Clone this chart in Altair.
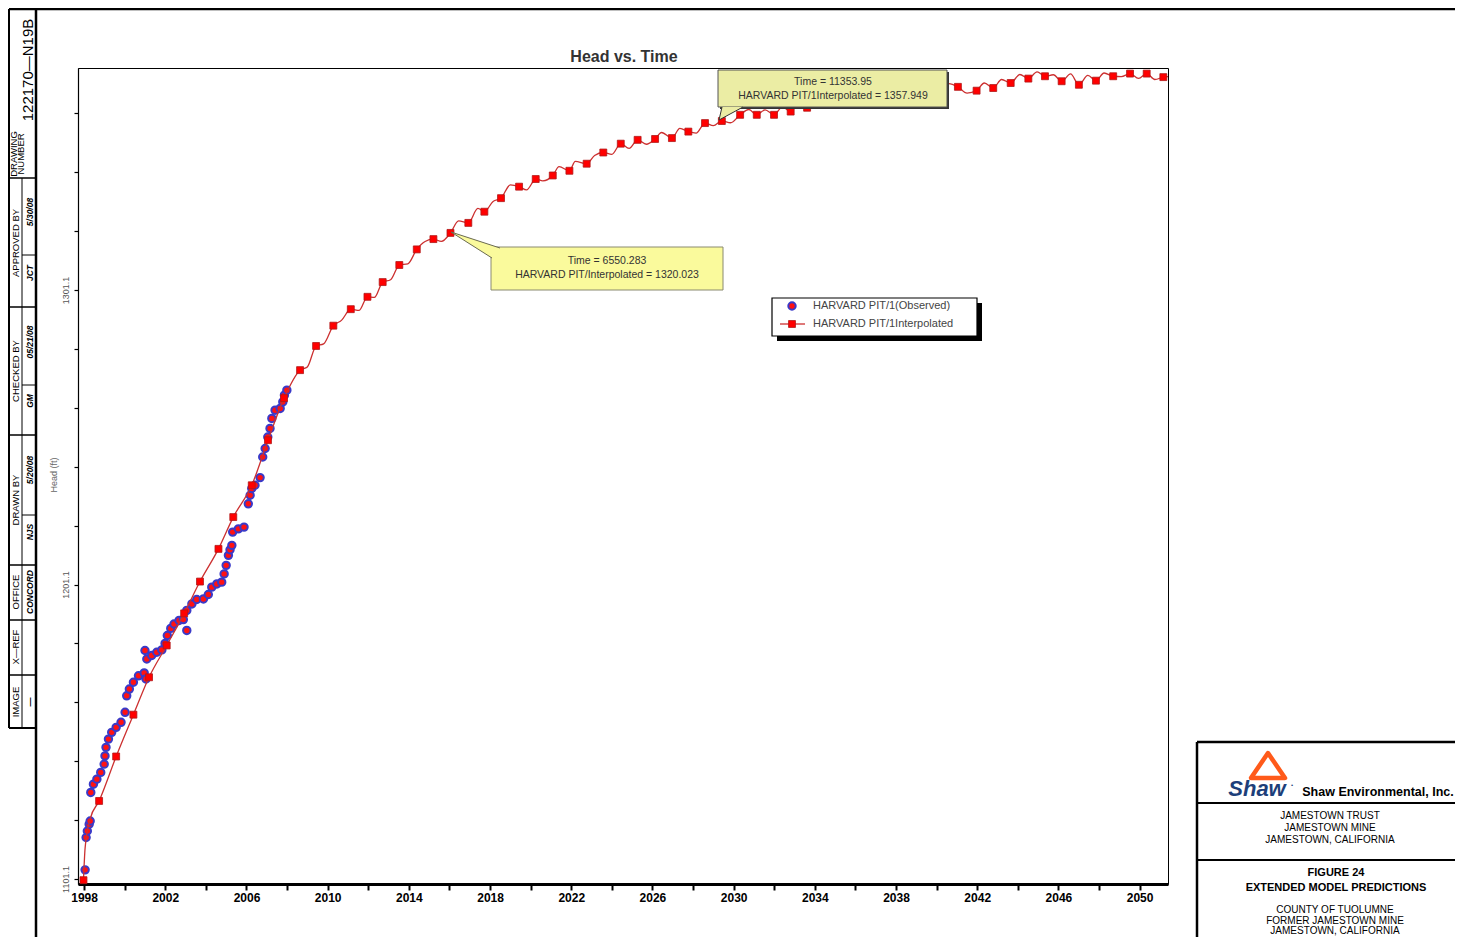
import altair as alt
import pandas as pd

# ---------------- data ----------------
obs_year = [1998.05, 1998.10, 1998.16, 1998.25, 1998.30, 1998.33, 1998.46, 1998.63, 1998.82, 1998.99,
            1999.03, 1999.08, 1999.20, 1999.36, 1999.58, 1999.82, 2000.02, 2000.10, 2000.23, 2000.43,
            2000.68, 2000.96, 2001.05, 2001.00, 2001.09, 2001.33, 2001.58, 2001.83, 2001.99, 2002.10,
            2002.27, 2002.43, 2002.68, 2002.89, 2003.06, 2003.06, 2003.31, 2003.55, 2003.88, 2004.12,
            2004.29, 2004.54, 2004.78, 2004.90, 2005.00, 2005.11, 2005.19, 2005.28, 2005.32, 2005.60,
            2005.88, 2006.09, 2006.18, 2006.26, 2006.42, 2006.67, 2006.80, 2006.92, 2007.05, 2007.16,
            2007.25, 2007.41, 2007.66, 2007.79, 2007.87, 2007.99]
obs_head = [1104.2, 1115.2, 1117.4, 1119.7, 1120.8, 1130.5, 1133.3, 1135.0, 1137.3, 1140.1,
            1142.9, 1145.8, 1148.6, 1150.9, 1152.6, 1154.3, 1157.7, 1163.3, 1165.6, 1167.9,
            1170.1, 1171.1, 1169.0, 1178.7, 1175.8, 1177.0, 1178.1, 1178.9, 1181.1, 1183.8,
            1186.2, 1187.7, 1188.9, 1189.2, 1185.5, 1192.3, 1194.5, 1196.0, 1196.2, 1197.7,
            1200.2, 1201.3, 1201.9, 1204.7, 1207.6, 1211.0, 1212.9, 1214.4, 1218.9, 1220.0,
            1220.6, 1228.5, 1231.4, 1233.7, 1234.8, 1237.4, 1244.4, 1247.3, 1251.2, 1254.1,
            1257.5, 1260.3, 1260.9, 1263.1, 1265.4, 1267.1]

sq_year = [1997.97, 1998.74, 1999.58, 2000.43, 2001.20, 2002.07, 2002.93, 2003.71, 2004.62, 2005.35,
           2006.26, 2007.06, 2007.85, 2008.64, 2009.43, 2010.28, 2011.14, 2011.96, 2012.71, 2013.53,
           2014.39, 2015.21, 2016.05, 2016.93, 2017.72, 2018.54, 2019.43, 2020.25, 2021.09, 2021.91,
           2022.76, 2023.58, 2024.44, 2025.27, 2026.13, 2026.96, 2027.77, 2028.59, 2029.42, 2030.32,
           2031.14, 2031.99, 2032.81, 2033.62, 2034.45, 2035.29, 2036.08, 2036.92, 2037.75, 2038.54,
           2039.38, 2040.22, 2041.05, 2041.97, 2042.79, 2043.65, 2044.52, 2045.34, 2046.16, 2047.01,
           2047.85, 2048.70, 2049.53, 2050.35, 2051.17]
sq_head = [1100.7, 1127.6, 1142.7, 1156.9, 1169.6, 1180.4, 1191.3, 1202.1, 1213.2, 1224.0,
           1234.8, 1250.1, 1264.4, 1273.9, 1282.1, 1289.0, 1294.6, 1298.8, 1303.8, 1309.6,
           1314.9, 1318.4, 1320.5, 1323.9, 1327.7, 1332.3, 1336.2, 1338.8, 1340.0, 1341.6,
           1344.0, 1347.8, 1350.8, 1352.1, 1352.4, 1352.7, 1354.9, 1357.8, 1358.5, 1360.6,
           1360.6, 1360.6, 1361.7, 1363.0, 1364.0, 1365.0, 1365.7, 1366.4, 1367.1, 1367.8,
           1368.4, 1369.1, 1370.1, 1368.8, 1369.7, 1371.4, 1372.9, 1373.7, 1372.0, 1370.8,
           1372.2, 1373.7, 1374.6, 1374.6, 1373.4]

# extra vertices of the interpolated curve (its seasonal wiggles between markers)
wave_year = [1998.05, 1998.30, 2009.00, 2009.80, 2010.68, 2011.55, 2012.30, 2013.10, 2013.95, 2014.80,
             2015.60, 2016.45, 2017.40, 2018.15, 2019.00, 2019.80, 2020.60, 2021.40, 2022.20, 2023.15,
             2024.00, 2024.85, 2025.70, 2026.45, 2027.35, 2028.15, 2029.00, 2029.85, 2030.75, 2031.55,
             2032.40, 2033.20, 2034.05, 2034.85, 2035.70, 2036.50, 2037.35, 2038.15, 2038.95, 2039.80,
             2040.60, 2041.50, 2042.35, 2043.20, 2044.10, 2044.95, 2045.75, 2046.60, 2047.45, 2048.25,
             2049.10, 2049.95, 2050.75, 2051.40]
wave_head = [1111.6, 1121.5, 1275.0, 1282.8, 1290.8, 1294.2, 1298.6, 1304.6, 1310.0, 1317.6,
             1317.6, 1324.6, 1328.8, 1331.2, 1336.8, 1335.1, 1338.2, 1343.0, 1344.8, 1346.8,
             1347.2, 1349.2, 1350.6, 1354.6, 1356.0, 1354.4, 1356.9, 1357.9, 1362.4, 1362.3,
             1363.3, 1364.4, 1365.3, 1366.3, 1367.1, 1367.8, 1368.5, 1369.2, 1369.9, 1370.5,
             1371.2, 1368.0, 1371.4, 1372.6, 1374.3, 1375.2, 1374.2, 1374.5, 1374.0, 1374.8,
             1373.6, 1373.0, 1372.6, 1373.6]

x_ticks = [1998, 2000, 2002, 2004, 2006, 2008, 2010, 2012, 2014, 2016, 2018, 2020, 2022, 2024,
           2026, 2028, 2030, 2032, 2034, 2036, 2038, 2040, 2042, 2044, 2046, 2048, 2050]
y_ticks = [1101.1, 1121.1, 1141.1, 1161.1, 1181.1, 1201.1, 1221.1, 1241.1, 1261.1, 1281.1,
           1301.1, 1321.1, 1341.1, 1361.1]
y_labels = ["1101.1", "1201.1", "1301.1"]

X_DOMAIN = [1997.70, 2051.40]
Y_DOMAIN = [1099.4, 1376.5]

# ---------------- layout ----------------
OX, OY = 78, 68          # page position of the plot area's top-left corner
W, H = 1090, 816
FONT = "Liberation Sans"

obs = pd.DataFrame({"year": obs_year, "head": obs_head})
sq = pd.DataFrame({"year": sq_year, "head": sq_head})
line = pd.concat([sq, pd.DataFrame({"year": wave_year, "head": wave_head})]).sort_values("year")

xs = alt.Scale(domain=X_DOMAIN, nice=False, zero=False)
ys = alt.Scale(domain=Y_DOMAIN, nice=False, zero=False)

x_axis = alt.Axis(values=x_ticks, format="d",
                  labelExpr="datum.value % 4 == 2 ? datum.label : ''",
                  title=None, grid=False, domainColor="black", domainWidth=3,
                  tickColor="black", tickWidth=2, tickSize=6,
                  labelFont=FONT, labelFontWeight="bold", labelFontSize=12, labelColor="black",
                  labelPadding=2, labelFlush=False, labelOverlap=False, labelBound=False)
lab_test = " || ".join(f"datum.label == '{v}'" for v in y_labels)
y_axis = alt.Axis(values=y_ticks, format=".1f",
                  labelExpr=f"({lab_test}) ? datum.label : ''",
                  title=None, grid=False, domainColor="black", domainWidth=1.2,
                  tickColor="black", tickSize=4, tickWidth=1.2,
                  labelAngle=270, labelAlign="center", labelBaseline="bottom", labelPadding=4,
                  labelFont=FONT, labelFontSize=9, labelColor="#555", labelOverlap=False)

X = alt.X("year:Q", scale=xs, axis=x_axis)
Y = alt.Y("head:Q", scale=ys, axis=y_axis)

RED = "#ff1212"
BLUE = "#3a3ac8"
LINE_RED = "#cc3030"

obs_layer = alt.Chart(obs).mark_point(shape="circle", filled=True, size=55, fill=RED,
                                       stroke=BLUE, strokeWidth=2, opacity=1).encode(x=X, y=Y)
line_layer = alt.Chart(line).mark_line(color=LINE_RED, strokeWidth=1.3,
                                       interpolate="monotone").encode(x=X, y=Y)
sq_layer = alt.Chart(sq).mark_square(size=48, fill="#ff0000", stroke="#b01818",
                                     strokeWidth=0.8, opacity=1).encode(x=X, y=Y)


# ---------------- decoration helpers (page pixel positions) ----------------
def pos(dfx, dfy):
    return dict(x=alt.X(dfx, scale=None, axis=None), y=alt.Y(dfy, scale=None, axis=None))


def texts(rows, **kw):
    df = pd.DataFrame(rows, columns=["px", "py", "t", "fs"])
    df["lx"] = df["px"] - OX
    df["ly"] = df["py"] - OY
    kw.setdefault("font", FONT)
    kw.setdefault("baseline", "middle")
    return alt.Chart(df).mark_text(**kw).encode(
        text="t:N", size=alt.Size("fs:Q", scale=None, legend=None), **pos("lx:Q", "ly:Q"))


def rules(rows, color="black"):
    df = pd.DataFrame(rows, columns=["x1", "y1", "x2", "y2", "w"])
    df["a"] = df["x1"] - OX
    df["b"] = df["x2"] - OX
    df["c"] = df["y1"] - OY
    df["d"] = df["y2"] - OY
    return alt.Chart(df).mark_rule(color=color).encode(
        x=alt.X("a:Q", scale=None, axis=None), x2="b:Q",
        y=alt.Y("c:Q", scale=None, axis=None), y2="d:Q",
        strokeWidth=alt.StrokeWidth("w:Q", scale=None, legend=None))


def rect(x1, y1, x2, y2, **kw):
    df = pd.DataFrame({"a": [x1 - OX], "b": [x2 - OX], "c": [y1 - OY], "d": [y2 - OY]})
    return alt.Chart(df).mark_rect(**kw).encode(
        x=alt.X("a:Q", scale=None, axis=None), x2="b:Q",
        y=alt.Y("c:Q", scale=None, axis=None), y2="d:Q")


def symbol(x, y, shape, size, **kw):
    df = pd.DataFrame({"a": [x - OX], "b": [y - OY]})
    return alt.Chart(df).mark_point(shape=shape, size=size, opacity=1, **kw).encode(**pos("a:Q", "b:Q"))


layers = [obs_layer, line_layer, sq_layer]

# ---- legend ----
layers += [
    rect(777, 303, 982, 341, fill="black"),
    rect(772, 298, 977, 336, fill="white", stroke="black", strokeWidth=1.2),
    symbol(792, 306, "circle", 55, filled=True, fill=RED, stroke=BLUE, strokeWidth=2),
    rules([(780, 324, 805, 324, 1.3)], color=LINE_RED),
    symbol(792, 324, "square", 48, filled=True, fill="#ff0000", stroke="#b01818", strokeWidth=0.8),
    texts([(813, 306, "HARVARD PIT/1(Observed)", 11),
           (813, 324, "HARVARD PIT/1Interpolated", 11)], align="left", color="#444"),
]

# ---- callouts ----
layers += [
    rect(491, 247, 723, 290, fill="#fafa9c", stroke="#8a8a70", strokeWidth=1),
    symbol(451, 232, "M49,16 L0,0 L41,26", 4, filled=True, fill="#fafa9c",
           stroke="#6a6a50", strokeWidth=1),
    texts([(607, 261, "Time  =  6550.283", 10.5),
           (607, 275, "HARVARD  PIT/Interpolated  =  1320.023", 10.5)], align="center", color="#333"),
    rect(720, 72, 949, 109, fill="#333"),
    rect(718, 70, 947, 107, fill="#ebeda4", stroke="#555", strokeWidth=1),
    symbol(719, 120, "M24,-13 L0,0 L3,-13", 4, filled=True, fill="#ebeda4",
           stroke="#333", strokeWidth=1),
    texts([(833, 82, "Time = 11353.95", 10.5),
           (833, 96, "HARVARD PIT/1Interpolated = 1357.949", 10.5)], align="center", color="#333"),
]

# ---- titles ----
layers += [
    texts([(624, 57, "Head vs. Time", 16)], align="center", fontWeight="bold", color="#333"),
    texts([(54, 475, "Head (ft)", 9)], align="center", angle=270, color="#666"),
]

# ---- drawing frame and left title strip ----
layers += [
    rules([
        (9, 9, 1463, 9, 2.5),
        (36, 9, 36, 945, 2.5),
        (9, 9, 9, 728, 2),
        (9, 728, 36, 728, 2),
        (9, 178, 36, 178, 1.5),
        (9, 307, 36, 307, 1.5),
        (9, 435, 36, 435, 1.5),
        (9, 565, 36, 565, 1.5),
        (9, 620, 36, 620, 1.5),
        (9, 675, 36, 675, 1.5),
        (22, 178, 22, 728, 1),
        (22, 255, 36, 255, 1),
        (22, 385, 36, 385, 1),
        (22, 515, 36, 515, 1),
        (1197, 742, 1463, 742, 2.5),
        (1197, 742, 1197, 945, 2.5),
        (1197, 803, 1463, 803, 2),
        (1197, 860, 1463, 860, 2),
    ]),
    texts([(28, 70, "122170\u2014N19B", 15)], align="center", angle=270, color="black"),
    texts([(14, 154, "DRAWING", 9.5), (21, 154, "NUMBER", 9.5),
           (15.5, 243, "APPROVED  BY", 9.5), (15.5, 371, "CHECKED  BY", 9.5),
           (15.5, 500, "DRAWN  BY", 9.5), (15.5, 592, "OFFICE", 9.5),
           (15.5, 647, "X\u2014REF", 9.5), (15.5, 702, "IMAGE", 9.5)],
          align="center", angle=270, color="black"),
    texts([(29.5, 273, "JCT", 8.5), (29.5, 212, "5/30/08", 8.5),
           (29.5, 401, "GM", 8.5), (29.5, 342, "05/21/08", 8.5),
           (29.5, 532, "NJS", 8.5), (29.5, 470, "5/20/08", 8.5),
           (29.5, 592, "CONCORD", 8.5), (29.5, 702, "\u2014", 9)],
          align="center", angle=270, fontStyle="italic", fontWeight="bold", color="black"),
]

# ---- title block (bottom right) ----
layers += [
    symbol(1268, 766, "M0,-13 L17,12 L-17,12 Z", 4, filled=False, stroke="#ff5a1a",
           strokeWidth=4.5, strokeJoin="round"),
    texts([(1257, 789, "Shaw", 22)], align="center", fontWeight="bold", fontStyle="italic",
          color="#1d3f7a"),
    texts([(1292, 785, "\u2022", 6)], align="center", color="#1d3f7a"),
    texts([(1378, 792, "Shaw Environmental, Inc.", 12.5)], align="center", fontWeight="bold",
          color="black"),
    texts([(1330, 816, "JAMESTOWN  TRUST", 10), (1330, 828, "JAMESTOWN  MINE", 10),
           (1330, 840, "JAMESTOWN,  CALIFORNIA", 10),
           (1335, 910, "COUNTY  OF  TUOLUMNE", 10), (1335, 921, "FORMER  JAMESTOWN  MINE", 10),
           (1335, 931, "JAMESTOWN,  CALIFORNIA", 10)],
          align="center", color="black"),
    texts([(1336, 873, "FIGURE 24", 11), (1336, 888, "EXTENDED MODEL PREDICTIONS", 11)],
          align="center", fontWeight="bold", color="black"),
]

chart = alt.layer(*layers).properties(
    width=W, height=H,
    padding={"left": 70, "top": 60, "right": 287, "bottom": 53},
    autosize=alt.AutoSizeParams(type="none"),
    background="white",
).configure_view(stroke="black", strokeWidth=1)

chart.save("out.html", embed_options={"renderer": "svg", "actions": False})
